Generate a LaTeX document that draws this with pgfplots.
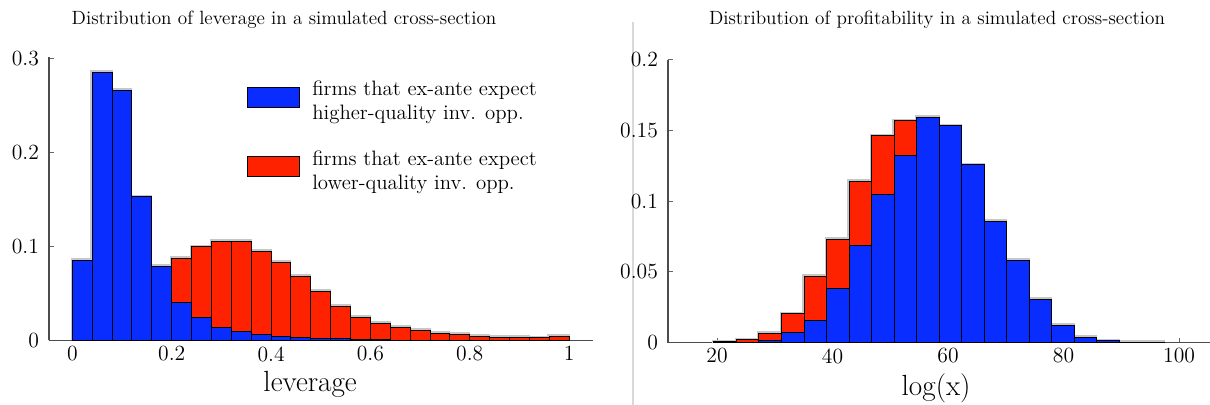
\documentclass[border=0pt]{standalone}
\usepackage{pgfplots}
\pgfplotsset{compat=1.18}
\definecolor{cblue}{RGB}{10,45,255}
\definecolor{cred}{RGB}{255,34,0}
\pgfplotsset{
  histstyle/.style={
    scale only axis,
    axis lines*=left,
    axis line style={black!70, line width=0.8pt},
    tick style={black!60, line width=0.6pt},
    major tick length=3pt,
    tick align=inside,
    ticklabel style={font=\fontsize{13}{15}\selectfont},
    yticklabel style={xshift=-2.5pt},
    clip=false,
  },
  barstyle/.style={ybar interval, draw=black, line width=0.6pt, forget plot},
  halostyle/.style={ybar interval, draw=black!22, line width=1.4pt, fill=none, forget plot, xshift=-0.4pt, yshift=0.7pt},
}
\begin{document}
\begin{tikzpicture}
\path[use as bounding box] (0,0) rectangle (726pt,243pt);
\draw[black!15, line width=0.8pt] (379.8pt,0) -- (379.8pt,229.8pt);
% ---------------- left panel ----------------
\begin{axis}[histstyle,
  at={(29.4pt,38.7pt)}, anchor=south west,
  width=326.4pt, height=170.1pt,
  xmin=-0.047, xmax=1.048, ymin=0, ymax=0.302,
  xtick={0,0.2,0.4,0.6,0.8,1}, xticklabels={0,0.2,0.4,0.6,0.8,1},
  ytick={0,0.1,0.2,0.3}, yticklabels={0,0.1,0.2,0.3},
  title={Distribution of leverage in a simulated cross-section},
  title style={at={(axis description cs:0.432,1.0953)}, anchor=center, yshift=0pt, font=\fontsize{11.5}{13}\selectfont},
  xlabel={leverage},
  xlabel style={at={(axis description cs:0.48,-0.153)}, anchor=center, font=\fontsize{17.5}{20}\selectfont},
  legend style={at={(axis description cs:0.363,0.93)}, anchor=north west, draw=none, fill=none,
    inner sep=0pt, row sep=13.2pt, column sep=5.5pt, font=\fontsize{12.5}{14.4}\selectfont, cells={align=left}},
  legend cell align=left,
  legend image code/.code={\draw[#1, line width=0.6pt] (0pt,-3.6pt) rectangle (31.2pt,8.4pt);},
]
\addlegendimage{fill=cblue, draw=black}
\addlegendentry{firms that ex-ante expect\\higher-quality inv. opp.}
\addlegendimage{fill=cred, draw=black}
\addlegendentry{firms that ex-ante expect\\lower-quality inv. opp.}
% halo
\addplot[halostyle] coordinates {
(0.00,0.085) (0.04,0.286) (0.08,0.266) (0.12,0.153) (0.16,0.079)
(0.20,0.0877) (0.24,0.0996) (0.28,0.1055) (0.32,0.1055) (0.36,0.095)
(0.40,0.0835) (0.44,0.068) (0.48,0.0526) (0.52,0.0366) (0.56,0.0249)
(0.60,0.0185) (0.64,0.0142) (0.68,0.0107) (0.72,0.0078) (0.76,0.0064)
(0.80,0.0043) (0.84,0.0032) (0.88,0.0032) (0.92,0.0028) (0.96,0.004) (1.00,0)};
% total (red on top)
\addplot[barstyle, fill=cred] coordinates {
(0.00,0.085) (0.04,0.286) (0.08,0.266) (0.12,0.153) (0.16,0.079)
(0.20,0.0877) (0.24,0.0996) (0.28,0.1055) (0.32,0.1055) (0.36,0.095)
(0.40,0.0835) (0.44,0.068) (0.48,0.0526) (0.52,0.0366) (0.56,0.0249)
(0.60,0.0185) (0.64,0.0142) (0.68,0.0107) (0.72,0.0078) (0.76,0.0064)
(0.80,0.0043) (0.84,0.0032) (0.88,0.0032) (0.92,0.0028) (0.96,0.004) (1.00,0)};
% blue
\addplot[barstyle, fill=cblue] coordinates {
(0.00,0.085) (0.04,0.286) (0.08,0.266) (0.12,0.153) (0.16,0.079)
(0.20,0.040) (0.24,0.024) (0.28,0.014) (0.32,0.010) (0.36,0.0066)
(0.40,0.0046) (0.44,0.003) (0.48,0.0025) (0.52,0.002) (0.56,0.0015)
(0.60,0.001) (0.64,0.0005) (0.68,0.0003) (0.72,0.0002) (0.76,0.0002)
(0.80,0.0001) (0.84,0) (0.88,0) (0.92,0) (0.96,0) (1.00,0)};
\end{axis}
% ---------------- right panel ----------------
\begin{axis}[histstyle,
  at={(400.8pt,37.44pt)}, anchor=south west,
  width=325pt, height=169.7pt,
  xmin=11.5, xmax=105.3, ymin=0, ymax=0.2,
  xtick={20,40,60,80,100}, xticklabels={20,40,60,80,100},
  ytick={0,0.05,0.1,0.15,0.2}, yticklabels={0,0.05,0.1,0.15,0.2},
  title={Distribution of profitability in a simulated cross-section},
  title style={at={(axis description cs:0.4966,1.1056)}, anchor=center, yshift=0pt, font=\fontsize{11.5}{13}\selectfont},
  xlabel={log(x)},
  xlabel style={at={(axis description cs:0.495,-0.160)}, anchor=center, font=\fontsize{17.5}{20}\selectfont},
]
\addplot[halostyle] coordinates {
(19.45,0.0005) (23.35,0.0019) (27.25,0.0066) (31.15,0.0203) (35.05,0.0467)
(38.95,0.0731) (42.85,0.1139) (46.75,0.1462) (50.65,0.1568) (54.55,0.1594)
(58.45,0.1532) (62.35,0.1257) (66.25,0.0856) (70.15,0.058) (74.05,0.0307)
(77.95,0.012) (81.85,0.0035) (85.75,0.0012) (89.65,0) (93.55,0.0004) (97.45,0)};
\addplot[barstyle, fill=cred] coordinates {
(19.45,0.0005) (23.35,0.0019) (27.25,0.0066) (31.15,0.0203) (35.05,0.0467)
(38.95,0.0731) (42.85,0.1139) (46.75,0.1462) (50.65,0.1568) (54.55,0.1594)
(58.45,0.1532) (62.35,0.1257) (66.25,0.0856) (70.15,0.058) (74.05,0.0307)
(77.95,0.012) (81.85,0.0035) (85.75,0.0012) (89.65,0) (93.55,0.0004) (97.45,0)};
\addplot[barstyle, fill=cblue] coordinates {
(19.45,0.0005) (23.35,0) (27.25,0.0012) (31.15,0.0071) (35.05,0.0153)
(38.95,0.0382) (42.85,0.0684) (46.75,0.105) (50.65,0.1325) (54.55,0.1594)
(58.45,0.1532) (62.35,0.1257) (66.25,0.0856) (70.15,0.058) (74.05,0.0307)
(77.95,0.012) (81.85,0.0035) (85.75,0.0012) (89.65,0) (93.55,0.0004) (97.45,0)};
\end{axis}
\end{tikzpicture}
\end{document}
